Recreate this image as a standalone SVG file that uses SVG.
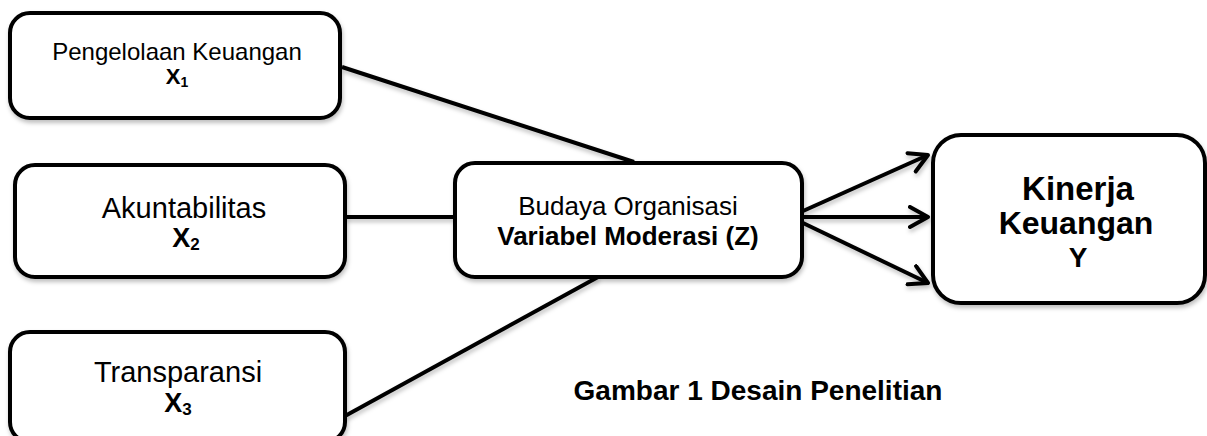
<svg xmlns="http://www.w3.org/2000/svg" width="1207" height="436" viewBox="0 0 1207 436">
  <style>
    .box { fill: #ffffff; stroke: #000000; stroke-width: 4; filter: url(#sh); }
    .edge { fill: none; stroke: #000000; stroke-width: 4; filter: url(#sh); }
    text { font-family: "Liberation Sans", Arial, sans-serif; fill: #000000; text-anchor: middle; }
    .b { font-weight: bold; }
  </style>
  <defs>
    <filter id="sh" filterUnits="userSpaceOnUse" x="0" y="0" width="1207" height="460">
      <feDropShadow dx="1" dy="3" stdDeviation="2" flood-color="#000000" flood-opacity="0.25"/>
    </filter>
    <marker id="arr" markerUnits="userSpaceOnUse" markerWidth="30" markerHeight="30" refX="20" refY="12" orient="auto">
      <path d="M2,2 L20,12 L2,22" fill="none" stroke="#000000" stroke-width="4" stroke-linecap="round" stroke-linejoin="round"/>
    </marker>
  </defs>

  <g id="connectors">
    <line class="edge" x1="342" y1="67" x2="634" y2="162"/>
    <line class="edge" x1="345" y1="217" x2="455" y2="217"/>
    <line class="edge" x1="345" y1="416" x2="598" y2="277"/>
    <line class="edge" x1="803" y1="211" x2="928" y2="155" marker-end="url(#arr)"/>
    <line class="edge" x1="803" y1="217" x2="928" y2="217" marker-end="url(#arr)"/>
    <line class="edge" x1="803" y1="223" x2="928" y2="283" marker-end="url(#arr)"/>
  </g>

  <g id="node-x1">
    <rect class="box" x="10" y="13" width="330" height="105" rx="20" ry="20"/>
    <text x="177" y="60" font-size="24">Pengelolaan Keuangan</text>
    <text x="177" y="84" font-size="22" class="b">X<tspan font-size="14" dy="3">1</tspan></text>
  </g>

  <g id="node-x2">
    <rect class="box" x="15" y="165" width="330" height="112" rx="20" ry="20"/>
    <text x="184" y="218" font-size="29">Akuntabilitas</text>
    <text x="186" y="247" font-size="27" class="b">X<tspan font-size="17" dy="3">2</tspan></text>
  </g>

  <g id="node-x3">
    <rect class="box" x="10" y="332" width="335" height="110" rx="20" ry="20"/>
    <text x="178" y="382" font-size="29">Transparansi</text>
    <text x="178" y="412" font-size="27" class="b">X<tspan font-size="17" dy="3">3</tspan></text>
  </g>

  <g id="node-z">
    <rect class="box" x="455" y="163" width="347" height="114" rx="20" ry="20"/>
    <text x="628" y="215" font-size="26">Budaya Organisasi</text>
    <text x="628" y="245" font-size="26" class="b">Variabel Moderasi (Z)</text>
  </g>

  <g id="node-y">
    <rect class="box" x="933" y="135" width="272" height="168" rx="28" ry="28"/>
    <text x="1078" y="200" font-size="33" class="b">Kinerja</text>
    <text x="1076" y="234" font-size="32" class="b">Keuangan</text>
    <text x="1078" y="267" font-size="28" class="b">Y</text>
  </g>

  <g id="caption">
    <text x="758" y="400" font-size="28" class="b">Gambar 1 Desain Penelitian</text>
  </g>
</svg>
